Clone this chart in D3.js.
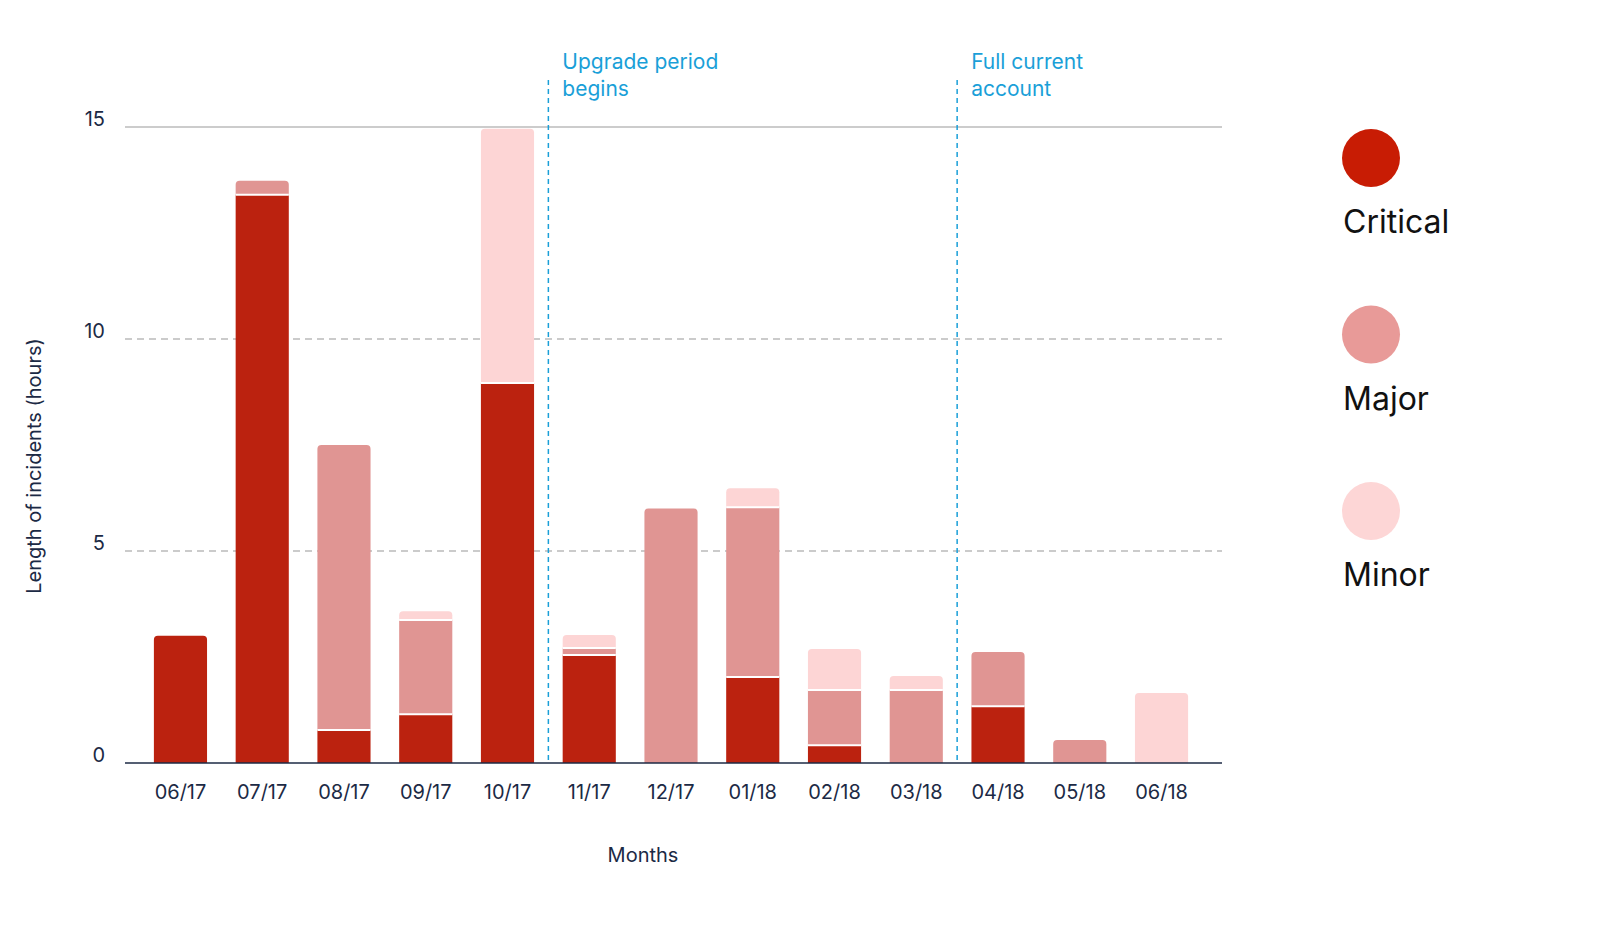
<!DOCTYPE html><html><head><script src="https://cdn.jsdelivr.net/npm/d3@7"></script>
<style>body{margin:0;background:#fff}text{font-family:Inter,"Noto Sans",sans-serif}</style></head><body>
<svg id="c" width="1600" height="936"></svg>
<script>
const months=["06/17","07/17","08/17","09/17","10/17","11/17","12/17","01/18","02/18","03/18","04/18","05/18","06/18"];
const critical=[3.0,13.4,0.78,1.15,8.96,2.55,0,2.03,0.42,0,1.34,0,0];
const major=[0,0.33,6.72,2.22,0,0.16,6.0,4.0,1.3,1.72,1.28,0.54,0];
const minor=[0,0,0,0.21,6.0,0.31,0,0.45,0.97,0.33,0,0,1.65];
const yTicks=[0,5,10,15];
const series=["Critical","Major","Minor"];
const barColors=["#bb220f","#e09593","#fdd5d5"];
const legendColors=["#c81c04","#e89a98","#fdd6d6"];
const markers=[{after:"10/17",text:["Upgrade period","begins"]},{after:"03/18",text:["Full current","account"]}];

const svg=d3.select("#c");
const x=d3.scaleBand().domain(months).range([140,1202]).paddingInner(0.35).paddingOuter(0.17);
const y=d3.scaleLinear().domain([0,15]).range([763,127]);
const navy="#1c2a45";
// grid
yTicks.filter(t=>t>0).forEach(t=>{
  svg.append("line").attr("x1",125).attr("x2",1222).attr("y1",y(t)).attr("y2",y(t))
   .attr("stroke","#bbb").attr("stroke-width",1.5).attr("stroke-dasharray",t===15?null:"7,5");
});
const yA=svg.append("g").attr("transform","translate(125,0)").call(d3.axisLeft(y).tickValues(yTicks).tickSize(0).tickPadding(20));
yA.select(".domain").remove();
yA.selectAll("text").attr("font-size",20).attr("fill",navy).attr("dy","-0.1em");
// bars
const data=months.map((m,i)=>({m,v:[critical[i],major[i],minor[i]]}));
data.forEach(d=>{
  let base=0;
  const top=d.v.reduce((a,b)=>a+b,0);
  d.v.forEach((v,k)=>{
    if(v<=0)return;
    const y0=y(base),y1=y(base+v);
    const isTop=Math.abs(base+v-top)<1e-9;
    const w=x.bandwidth(),x0=x(d.m),r=isTop?4:0,h=y0-y1;
    svg.append("path").attr("d",`M${x0},${y0}V${y1+r}Q${x0},${y1} ${x0+r},${y1}H${x0+w-r}Q${x0+w},${y1} ${x0+w},${y1+r}V${y0}Z`)
      .attr("fill",barColors[k]);
    if(base>0) svg.append("line").attr("x1",x0).attr("x2",x0+w).attr("y1",y0).attr("y2",y0).attr("stroke","#fff").attr("stroke-width",2);
    base+=v;
  });
});
// x axis
svg.append("line").attr("x1",125).attr("x2",1222).attr("y1",763).attr("y2",763).attr("stroke",navy).attr("stroke-width",1.5);
const xA=svg.append("g").attr("transform","translate(0,763)").call(d3.axisBottom(x).tickSize(0).tickPadding(22));
xA.select(".domain").remove();
xA.selectAll("text").attr("font-size",20).attr("fill",navy);
// markers
markers.forEach(mk=>{
  const i=months.indexOf(mk.after);
  const mx=(x(months[i])+x.bandwidth()+x(months[i+1]))/2;
  svg.append("line").attr("x1",mx).attr("x2",mx).attr("y1",80).attr("y2",763).attr("stroke","#1a9fd8").attr("stroke-width",1.5).attr("stroke-dasharray","5,4");
  mk.text.forEach((t,j)=>svg.append("text").attr("x",mx+14).attr("y",69+j*27).attr("font-size",21).attr("fill","#1a9fd8").text(t));
});
// axis titles
svg.append("text").attr("x",643).attr("y",862).attr("text-anchor","middle").attr("font-size",20).attr("fill",navy).text("Months");
svg.append("text").attr("transform","translate(41,466) rotate(-90)").attr("text-anchor","middle").attr("font-size",20).attr("fill",navy).text("Length of incidents (hours)");
// legend
series.forEach((s,k)=>{
  const cy=158+k*176.5;
  svg.append("circle").attr("cx",1371).attr("cy",cy).attr("r",29).attr("fill",legendColors[k]);
  svg.append("text").attr("x",1343).attr("y",cy+75).attr("font-size",32).attr("fill","#111").text(s);
});
</script></body></html>
